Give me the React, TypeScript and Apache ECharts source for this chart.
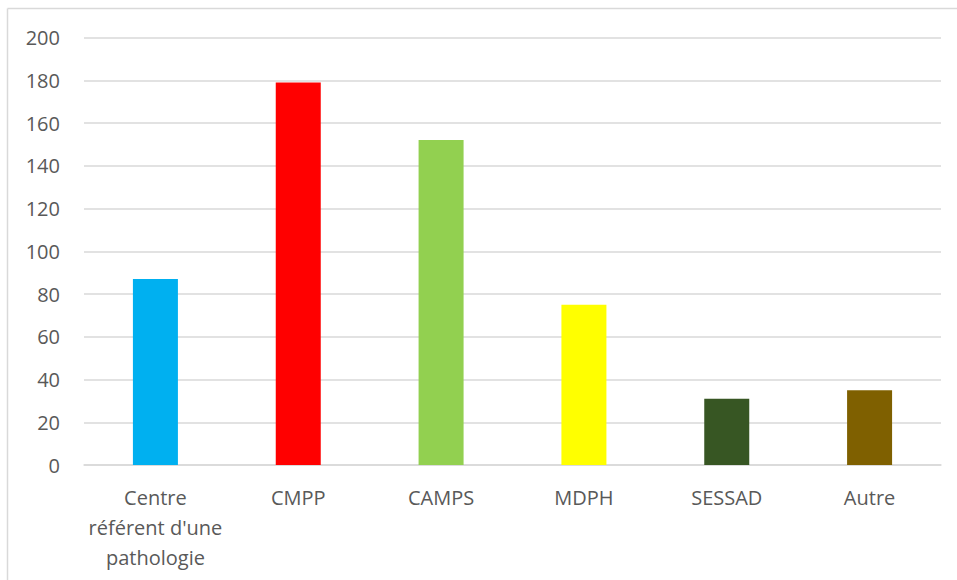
import React, { useEffect, useRef } from "react";
import * as echarts from "echarts";

const categories = ["Centre\nréférent d'une\npathologie", "CMPP", "CAMPS", "MDPH", "SESSAD", "Autre"];
const values = [87, 179, 152, 75, 31, 35];
const barColors = ["#00B0F0", "#FF0000", "#92D050", "#FFFF00", "#375623", "#7F6000"];
const yTicks = { min: 0, max: 200, interval: 20 };

export default function App() {
  const ref = useRef<HTMLDivElement>(null);
  useEffect(() => {
    if (!ref.current) return;
    const chart = echarts.init(ref.current, undefined, { renderer: "svg" });
    chart.setOption({
      animation: false,
      backgroundColor: "#ffffff",
      textStyle: { fontFamily: "'Open Sans', sans-serif" },
      graphic: [
        { type: "line", shape: { x1: 7.5, y1: 8.5, x2: 957, y2: 8.5 }, style: { stroke: "#d9d9d9", lineWidth: 1.5 } },
        { type: "line", shape: { x1: 7.5, y1: 8.5, x2: 7.5, y2: 580 }, style: { stroke: "#d9d9d9", lineWidth: 1.5 } },
      ],
      grid: { left: 84, right: 16, top: 37.5, bottom: 115, containLabel: false },
      xAxis: {
        type: "category",
        data: categories,
        axisLine: { show: true, lineStyle: { color: "#d9d9d9", width: 1.5 } },
        axisTick: { show: false },
        axisLabel: {
          color: "#595959",
          fontSize: 20,
          lineHeight: 30,
          margin: 17,
          interval: 0,
          fontFamily: "'Open Sans', sans-serif",
        },
      },
      yAxis: {
        type: "value",
        min: yTicks.min,
        max: yTicks.max,
        interval: yTicks.interval,
        axisLine: { show: false },
        axisTick: { show: false },
        splitLine: { lineStyle: { color: "#d9d9d9", width: 1.5 } },
        axisLabel: { color: "#595959", fontSize: 20, margin: 24, fontFamily: "'Open Sans', sans-serif" },
      },
      series: [
        {
          type: "bar",
          barWidth: 45,
          data: values.map((v, i) => ({ value: v, itemStyle: { color: barColors[i] } })),
        },
      ],
    });
    return () => chart.dispose();
  }, []);
  return <div ref={ref} style={{ position: "fixed", left: 0, top: 0, width: 957, height: 580 }} />;
}
